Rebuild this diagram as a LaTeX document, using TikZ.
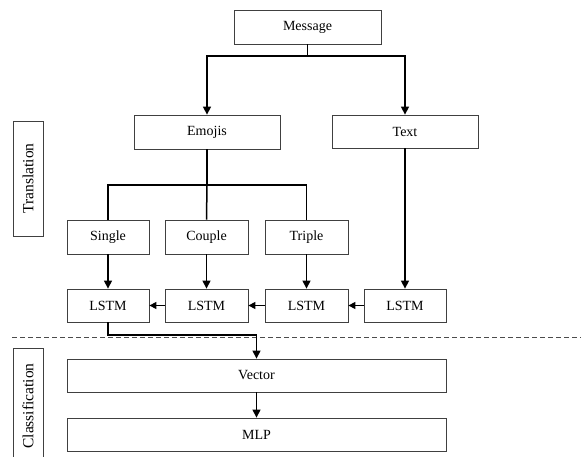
\documentclass[tikz,border=0pt]{standalone}
\usepackage{fontspec}
\setmainfont{Liberation Serif}
\usetikzlibrary{arrows.meta}
\begin{document}
\begin{tikzpicture}[x=1pt,y=-1pt,
  box/.style={draw=black!75, line width=0.8pt, inner sep=0pt, font=\fontsize{14}{16}\selectfont},
  side/.style={rotate=90, font=\fontsize{15.5}{18}\selectfont},
  conn/.style={line width=1.5pt, -{Triangle[width=8pt,length=8pt]}},
  thinconn/.style={line width=1.2pt, -{Triangle[width=8pt,length=8pt]}},
  plain/.style={line width=1.5pt},
  harr/.style={line width=1.3pt, -{Triangle[width=7pt,length=7pt]}}]
\useasboundingbox (0,0) rectangle (581,457);
\clip (0,0) rectangle (581,457);
% boxes
\node[box, minimum width=147pt, minimum height=34pt] (msg) at (307.5,27) {Message};
\node[box, minimum width=146pt, minimum height=34pt] (emo) at (207,132) {Emojis};
\node[box, minimum width=146pt, minimum height=33pt] (txt) at (405,131.5) {Text};
\node[box, minimum width=82pt, minimum height=34pt] (sgl) at (108,237) {Single};
\node[box, minimum width=83pt, minimum height=34pt] (cpl) at (206.5,237) {Couple};
\node[box, minimum width=83pt, minimum height=34pt] (trp) at (306.5,237) {Triple};
\node[box, minimum width=82pt, minimum height=33pt] (l1) at (108,305.5) {LSTM};
\node[box, minimum width=83pt, minimum height=33pt] (l2) at (206.5,305.5) {LSTM};
\node[box, minimum width=83pt, minimum height=33pt] (l3) at (306.5,305.5) {LSTM};
\node[box, minimum width=82pt, minimum height=33pt] (l4) at (405,305.5) {LSTM};
\node[box, minimum width=379pt, minimum height=33pt] (vec) at (256.5,375.5) {Vector};
\node[box, minimum width=379pt, minimum height=33pt] (mlp) at (256.5,434.5) {MLP};
\node[box, minimum width=30pt, minimum height=115pt] (tr) at (28,178.5) {};
\node[side] (trt) at (tr.center) {Translation};
\node[box, minimum width=30pt, minimum height=116pt] (cl) at (28,406) {};
\node[side] (clt) at (cl.center) {Classification};
% dashed separator
\coordinate (dl) at (12,337);
\coordinate (dr) at (581,337);
\draw[black!70, line width=0.8pt, dash pattern=on 5pt off 3pt] (dl) -- (dr);
% connectors
\coordinate (mj) at (msg.south |- 0,56);
\draw[plain] (msg.south) -- (mj);
\draw[conn] (mj) -| (emo.north);
\draw[conn] (mj) -| (txt.north);
\coordinate (ej) at (emo.south |- 0,185);
\draw[line width=1.1pt] (emo.south) -- (ej);
\draw[plain] (ej) -| (sgl.north);
\draw[plain] (ej) -- (cpl.north);
\draw[plain] (ej) -| (trp.north);
\draw[thinconn] (sgl) -- (l1);
\draw[thinconn] (cpl) -- (l2);
\draw[thinconn] (trp) -- (l3);
\draw[conn] (txt) -- (l4);
\draw[harr] (l4) -- (l3);
\draw[harr] (l3) -- (l2);
\draw[harr] (l2) -- (l1);
\coordinate (lj) at (l1.south |- 0,335);
\draw[thinconn] (l1.south) -- (lj) -| (vec.north);
\draw[thinconn] (vec) -- (mlp);
\end{tikzpicture}
\end{document}
